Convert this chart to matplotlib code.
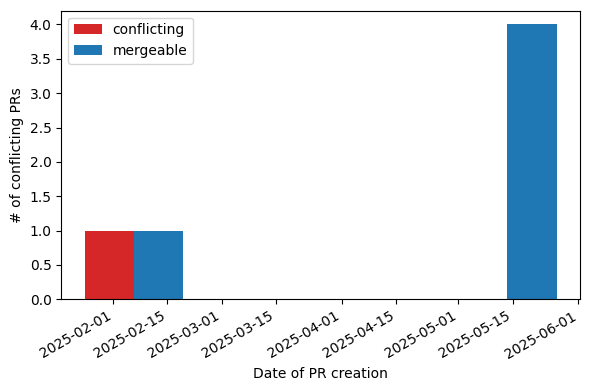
import matplotlib
matplotlib.use("Agg")
import matplotlib.pyplot as plt
import matplotlib.dates as mdates
import numpy as np
import datetime as dt

# Data
group_dates = ["2025-02-06 10:00", "2025-05-13 17:00"]
conflicting = [1.0, 0.0]
mergeable = [1.0, 4.0]

bar_width_days = 12.7

x = [dt.datetime.strptime(d, "%Y-%m-%d %H:%M") for d in group_dates]
xn = mdates.date2num(x)

fig, ax = plt.subplots(figsize=(5.9, 3.9), dpi=100)
ax.bar(xn - bar_width_days / 2, conflicting, width=bar_width_days,
       color="#d62728", label="conflicting")
ax.bar(xn + bar_width_days / 2, mergeable, width=bar_width_days,
       color="#1f77b4", label="mergeable")
ax.xaxis_date()
ax.xaxis.set_major_locator(mdates.DayLocator(bymonthday=[1, 15]))
ax.xaxis.set_major_formatter(mdates.DateFormatter("%Y-%m-%d"))
ax.yaxis.set_major_formatter(matplotlib.ticker.FormatStrFormatter("%.1f"))
ax.set_xlabel("Date of PR creation")
ax.set_ylabel("# of conflicting PRs")
ax.legend(loc="upper left")
fig.autofmt_xdate()
fig.subplots_adjust(left=0.104, right=0.9836, top=0.9726, bottom=0.2326)
fig.savefig("out.png")
